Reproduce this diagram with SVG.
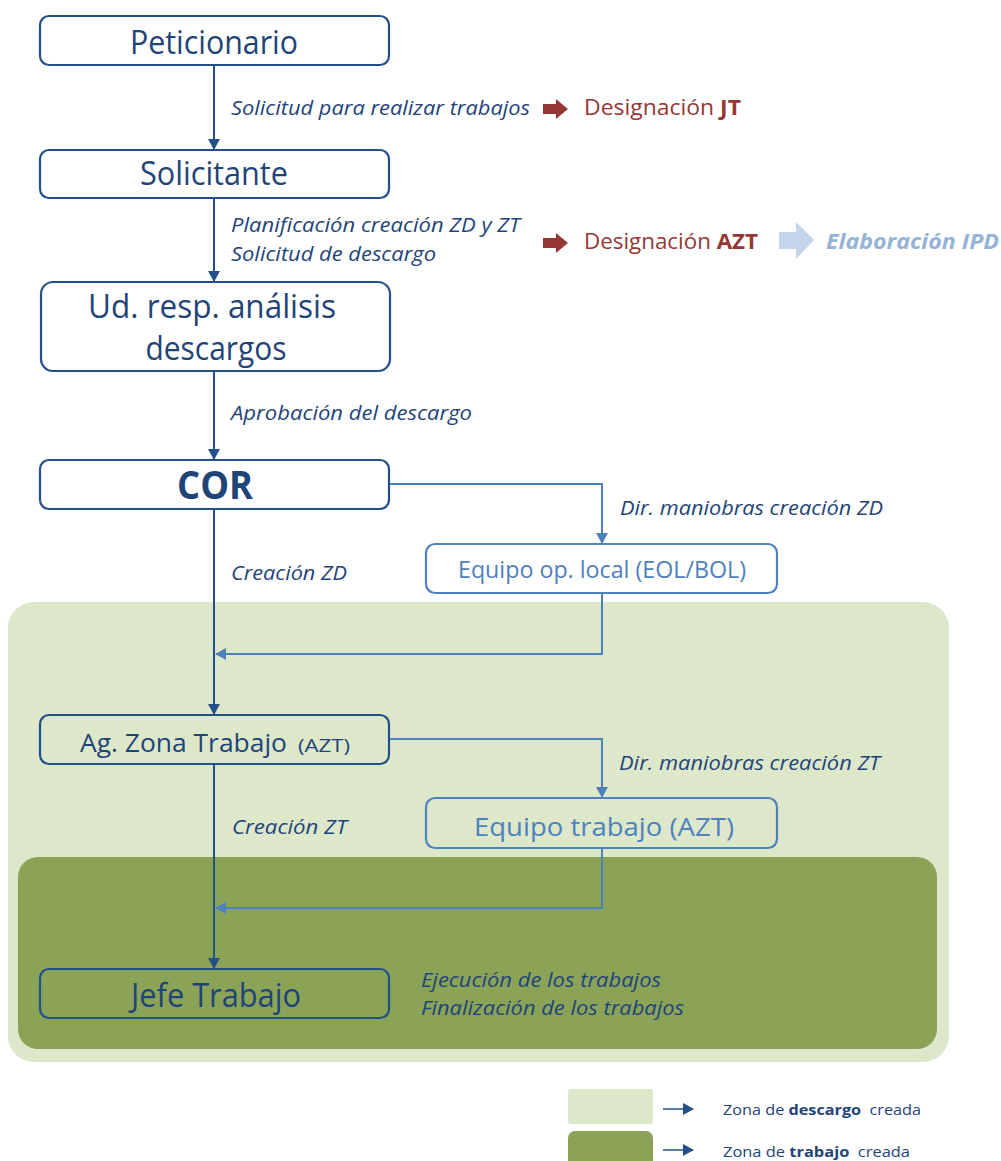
<svg xmlns="http://www.w3.org/2000/svg" width="1001" height="1161" viewBox="0 0 1001 1161">
<style>
.node{fill:#fff;stroke:#24508a;stroke-width:2.2}
.nodeT{fill:none;stroke:#24508a;stroke-width:2.2}
.node2{fill:#fff;stroke:#4f81bd;stroke-width:2.2}
.node2T{fill:none;stroke:#4f81bd;stroke-width:2.2}
.t{font-family:"Open Sans","Liberation Sans",sans-serif;fill:#1f4478}
.t2{font-family:"Open Sans","Liberation Sans",sans-serif;fill:#4f81bd}
.lab{font-family:"Open Sans","Liberation Sans",sans-serif;font-style:italic;font-size:19.5px;fill:#1f4478}
.red{font-family:"Open Sans","Liberation Sans",sans-serif;font-size:22px;fill:#953735}
.conn{fill:none;stroke:#24508a;stroke-width:2}
.conn2{fill:none;stroke:#4f81bd;stroke-width:2}
.leg{font-family:"Open Sans","Liberation Sans",sans-serif;font-size:15px;fill:#1f4478}
</style>
<defs>
<marker id="ah" markerWidth="12" markerHeight="12" refX="10" refY="6" orient="auto" markerUnits="userSpaceOnUse"><path d="M0,0 L11,6 L0,12 z" fill="#24508a"/></marker>
<marker id="ah2" markerWidth="12" markerHeight="12" refX="10" refY="6" orient="auto" markerUnits="userSpaceOnUse"><path d="M0,0 L11,6 L0,12 z" fill="#4f81bd"/></marker>
</defs>

<g id="zona-descargo"><rect x="8" y="602" width="941" height="460" rx="26" fill="#dde8cb"/></g>
<g id="zona-trabajo"><rect x="18" y="857" width="919" height="192" rx="20" fill="#8ba357"/></g>

<g id="connectors">
<line class="conn" x1="214" y1="66" x2="214" y2="149" marker-end="url(#ah)"/>
<line class="conn" x1="214" y1="199" x2="214" y2="281" marker-end="url(#ah)"/>
<line class="conn" x1="214" y1="372" x2="214" y2="459" marker-end="url(#ah)"/>
<line class="conn" x1="214" y1="510" x2="214" y2="714" marker-end="url(#ah)"/>
<line class="conn" x1="214" y1="765" x2="214" y2="968" marker-end="url(#ah)"/>
<polyline class="conn2" points="389,484 602,484 602,543" marker-end="url(#ah2)"/>
<polyline class="conn2" points="602,594 602,654 216,654" marker-end="url(#ah2)"/>
<polyline class="conn2" points="389,739 602,739 602,797" marker-end="url(#ah2)"/>
<polyline class="conn2" points="602,849 602,908 216,908" marker-end="url(#ah2)"/>
</g>

<g id="n-peticionario">
<rect class="node" x="40" y="16" width="349" height="49" rx="9"/>
<text class="t" x="214" y="54" font-size="32" text-anchor="middle" textLength="168" lengthAdjust="spacingAndGlyphs">Peticionario</text>
</g>
<g id="n-solicitante">
<rect class="node" x="40" y="150" width="349" height="48" rx="9"/>
<text class="t" x="214" y="185" font-size="32" text-anchor="middle" textLength="148" lengthAdjust="spacingAndGlyphs">Solicitante</text>
</g>
<g id="n-ud">
<rect class="node" x="41" y="282" width="349" height="89" rx="12"/>
<text class="t" x="212" y="318" font-size="32" text-anchor="middle" textLength="248" lengthAdjust="spacingAndGlyphs">Ud. resp. análisis</text>
<text class="t" x="216" y="360" font-size="32" text-anchor="middle" textLength="141" lengthAdjust="spacingAndGlyphs">descargos</text>
</g>
<g id="n-cor">
<rect class="node" x="40" y="460" width="349" height="49" rx="9"/>
<text class="t" x="215" y="499" font-size="39" font-weight="bold" text-anchor="middle" textLength="76" lengthAdjust="spacingAndGlyphs">COR</text>
</g>
<g id="n-eol">
<rect class="node2" x="426" y="544" width="351" height="49" rx="9"/>
<text class="t2" x="602" y="578" font-size="23" text-anchor="middle" textLength="288" lengthAdjust="spacingAndGlyphs">Equipo op. local (EOL/BOL)</text>
</g>
<g id="n-azt">
<rect class="nodeT" x="40" y="715" width="349" height="49" rx="9"/>
<text class="t" x="80" y="752" font-size="25" textLength="207" lengthAdjust="spacingAndGlyphs">Ag. Zona Trabajo</text>
<text class="t" x="298" y="752" font-size="19" textLength="52" lengthAdjust="spacingAndGlyphs">(AZT)</text>
</g>
<g id="n-equipo-trabajo">
<rect class="node2T" x="426" y="798" width="351" height="50" rx="9"/>
<text class="t2" x="604" y="836" font-size="25" text-anchor="middle" textLength="260" lengthAdjust="spacingAndGlyphs">Equipo trabajo (AZT)</text>
</g>
<g id="n-jefe">
<rect class="nodeT" x="40" y="969" width="349" height="49" rx="9"/>
<text class="t" x="216" y="1007" font-size="32" text-anchor="middle" textLength="170" lengthAdjust="spacingAndGlyphs">Jefe Trabajo</text>
</g>

<g id="labels">
<text class="lab" x="231" y="115" textLength="299" lengthAdjust="spacingAndGlyphs">Solicitud para realizar trabajos</text>
<text class="lab" x="231" y="232" textLength="289" lengthAdjust="spacingAndGlyphs">Planificación creación ZD y ZT</text>
<text class="lab" x="231" y="261" textLength="205" lengthAdjust="spacingAndGlyphs">Solicitud de descargo</text>
<text class="lab" x="231" y="420" textLength="241" lengthAdjust="spacingAndGlyphs">Aprobación del descargo</text>
<text class="lab" x="620" y="515" textLength="263" lengthAdjust="spacingAndGlyphs">Dir. maniobras creación ZD</text>
<text class="lab" x="231" y="580" textLength="116" lengthAdjust="spacingAndGlyphs">Creación ZD</text>
<text class="lab" x="619" y="770" textLength="261" lengthAdjust="spacingAndGlyphs">Dir. maniobras creación ZT</text>
<text class="lab" x="232" y="834" textLength="115" lengthAdjust="spacingAndGlyphs">Creación ZT</text>
<text class="lab" x="421" y="987" textLength="240" lengthAdjust="spacingAndGlyphs">Ejecución de los trabajos</text>
<text class="lab" x="421" y="1015" textLength="263" lengthAdjust="spacingAndGlyphs">Finalización de los trabajos</text>
</g>

<g id="designaciones">
<path d="M543,104 L556,104 L556,99 L568,109 L556,119 L556,114 L543,114 z" fill="#953735"/>
<text class="red" x="584" y="115" textLength="157" lengthAdjust="spacingAndGlyphs">Designación <tspan font-weight="bold">JT</tspan></text>
<path d="M543,238 L556,238 L556,233 L568,243 L556,253 L556,248 L543,248 z" fill="#953735"/>
<text class="red" x="584" y="249" textLength="174" lengthAdjust="spacingAndGlyphs">Designación <tspan font-weight="bold">AZT</tspan></text>
<path d="M779,232 L796,232 L796,222 L814,240 L796,259 L796,249 L779,249 z" fill="#c3d5ea"/>
<text x="826" y="249" font-family="'Open Sans','Liberation Sans',sans-serif" font-size="21" font-style="italic" font-weight="bold" fill="#95b3d7" textLength="173" lengthAdjust="spacingAndGlyphs">Elaboración IPD</text>
</g>

<g id="legend">
<rect x="568" y="1089" width="85" height="35" rx="3" fill="#dde8cb"/>
<rect x="568" y="1131" width="85" height="40" rx="7" fill="#8ba357"/>
<line x1="663" y1="1109" x2="693" y2="1109" stroke="#24508a" stroke-width="1.5" marker-end="url(#ah)"/>
<line x1="663" y1="1150" x2="693" y2="1150" stroke="#24508a" stroke-width="1.5" marker-end="url(#ah)"/>
<text class="leg" x="723" y="1115" textLength="198" lengthAdjust="spacingAndGlyphs">Zona de <tspan font-weight="bold">descargo</tspan>&#160; creada</text>
<text class="leg" x="723" y="1157" textLength="187" lengthAdjust="spacingAndGlyphs">Zona de <tspan font-weight="bold">trabajo</tspan>&#160; creada</text>
</g>
</svg>
